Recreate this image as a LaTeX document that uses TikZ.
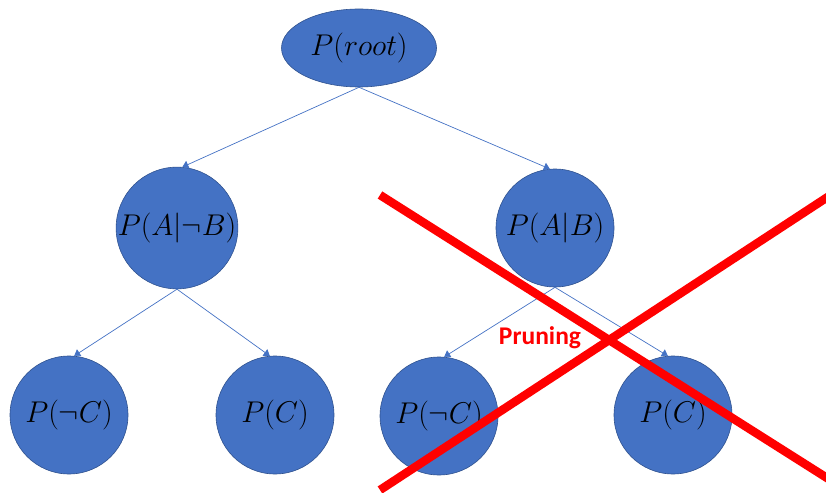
\documentclass[tikz,border=0pt]{standalone}
\usepackage{fix-cm}
\usepackage{fontspec}
\newfontfamily\labelfont{Carlito}
\usetikzlibrary{shapes.geometric,arrows.meta}
\definecolor{nodeblue}{HTML}{4472C4}
\definecolor{nodeedge}{HTML}{2F528F}
\definecolor{cutred}{HTML}{FF0000}
\tikzset{
  prob/.style={circle, fill=nodeblue, draw=nodeedge, line width=0.6pt,
    minimum size=118pt, inner sep=0pt,
    font=\fontsize{30}{30}\selectfont},
  rootnode/.style={ellipse, fill=nodeblue, draw=nodeedge, line width=0.6pt,
    minimum width=155pt, minimum height=78pt, inner sep=0pt,
    font=\fontsize{30}{30}\selectfont},
  branch/.style={draw=nodeblue, line width=0.7pt,
    -{Triangle[width=8pt,length=6pt]}},
  cross/.style={draw=cutred, line width=8.5pt},
}
\begin{document}
\begin{tikzpicture}[x=1pt,y=-1pt]
  \useasboundingbox (0,0) rectangle (826,492);
  \clip (0,0) rectangle (826,492);

  % tree nodes
  \node[rootnode] (root) at (359,48) {$P(root)$};
  \node[prob] (anb) at (177,228) {$P(A|\neg B)$};
  \node[prob] (ab)  at (555,228) {$P(A|B)$};
  \node[prob] (lnc) at (69,415)  {$P(\neg C)$};
  \node[prob] (lc)  at (275,415) {$P(C)$};
  \node[prob] (rnc) at (439,416) {$P(\neg C)$};
  \node[prob] (rc)  at (673,415) {$P(C)$};

  % branches
  \draw[branch] (root.south) -- (anb.85);
  \draw[branch] (root.south) -- (ab.95);
  \draw[branch] (anb.south) -- (lnc.85);
  \draw[branch] (anb.south) -- (lc.95);
  \draw[branch] (ab.south) -- (rnc.85);
  \draw[branch] (ab.south) -- (rc.95);

  % pruned subtree
  \coordinate (c1a) at (380,195);
  \coordinate (c1b) at (846,490);
  \coordinate (c2a) at (380,490);
  \coordinate (c2b) at (846,185);
  \draw[cross] (c1a) -- (c1b);
  \draw[cross] (c2a) -- (c2b);
  \node[text=cutred, font=\labelfont\bfseries\fontsize{25.5}{25.5}\selectfont]
    (prune) at (540,338) {Pruning};
\end{tikzpicture}
\end{document}
